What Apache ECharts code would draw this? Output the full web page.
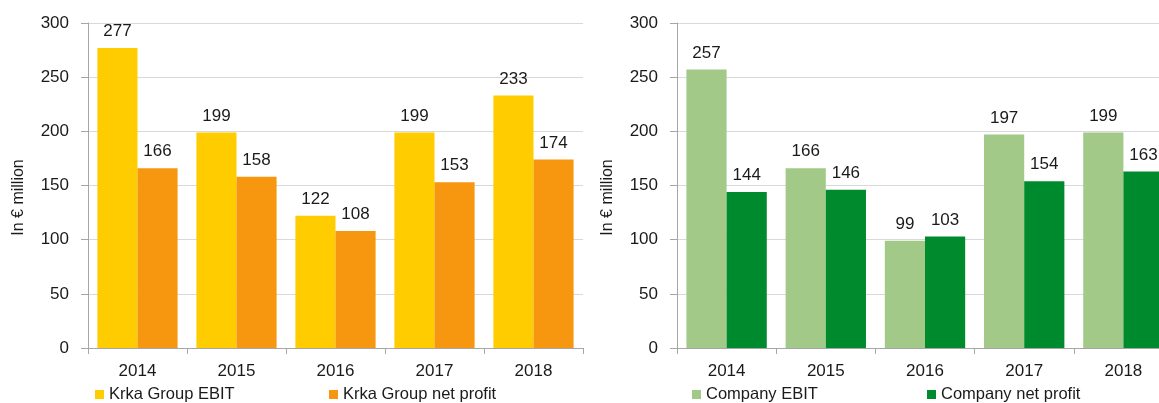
<!DOCTYPE html>
<html><head><meta charset="utf-8">
<script src="https://cdn.jsdelivr.net/npm/echarts@6/dist/echarts.min.js"></script>
<style>html,body{margin:0;padding:0;background:#fff}#c{width:1159px;height:403px}</style>
</head><body><div id="c"></div>
<script>
const years = ['2014','2015','2016','2017','2018'];
const groupEbit = [277,199,122,199,233];
const groupNet = [166,158,108,153,174];
const companyEbit = [257,166,99,197,199];
const companyNet = [144,146,103,154,163];
const yTicks = [0,50,100,150,200,250,300];
const yName = 'In € million';
const names = ['Krka Group EBIT','Krka Group net profit','Company EBIT','Company net profit'];
const colors = ['#FFCC00','#F7960F','#A2C987','#008A2E'];

const font = 'Liberation Sans, Arial, sans-serif';
const chart = echarts.init(document.getElementById('c'));
function xAx(gi){return {type:'category',gridIndex:gi,data:years,
  axisLine:{lineStyle:{color:'#A6A6A6'}},axisTick:{show:true,length:6,lineStyle:{color:'#A6A6A6'}},
  axisLabel:{color:'#1a1a1a',fontSize:17,fontFamily:font,margin:15}};}
function yAx(gi){return {type:'value',gridIndex:gi,min:yTicks[0],max:yTicks[yTicks.length-1],interval:50,
  name:yName,nameLocation:'middle',nameGap:61,
  nameTextStyle:{color:'#1a1a1a',fontSize:16,fontFamily:font,padding:[0,24,0,0]},
  axisLine:{show:true,lineStyle:{color:'#A6A6A6'}},axisTick:{show:true,length:7,lineStyle:{color:'#A6A6A6'}},
  splitLine:{lineStyle:{color:'#D9D9D9'}},
  axisLabel:{color:'#1a1a1a',fontSize:17,fontFamily:font,margin:19}};}
function bar(i,gi,data){return {name:names[i],type:'bar',xAxisIndex:gi,yAxisIndex:gi,data:data,
  itemStyle:{color:colors[i]},barGap:'0%',barCategoryGap:'19%',
  label:{show:true,position:'top',distance:8,color:'#1a1a1a',fontSize:17,fontFamily:font}};}
function leg(i,left){return {data:[names[i]],left:left,top:386,itemWidth:9,itemHeight:9,icon:'rect',
  textStyle:{color:'#1a1a1a',fontSize:16.5,fontFamily:font},padding:0,itemGap:0};}
chart.setOption({
  animation:false,
  grid:[{left:88,top:23,width:495,height:325,outerBoundsMode:'none',containLabel:false},
        {left:677,top:23,width:496,height:325,outerBoundsMode:'none',containLabel:false}],
  xAxis:[xAx(0),xAx(1)],
  yAxis:[yAx(0),yAx(1)],
  legend:[leg(0,95),leg(1,329),leg(2,692),leg(3,927)],
  series:[bar(0,0,groupEbit),bar(1,0,groupNet),bar(2,1,companyEbit),bar(3,1,companyNet)]
});
</script></body></html>
